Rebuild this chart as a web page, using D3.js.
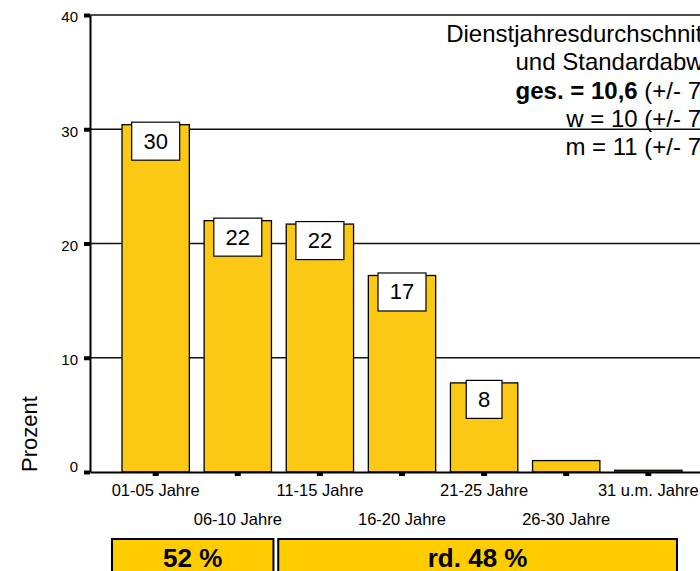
<!DOCTYPE html>
<html>
<head>
<meta charset="utf-8">
<script src="https://cdn.jsdelivr.net/npm/d3@7"></script>
<style>
  body { margin: 0; background: #fff; }
  svg { display: block; font-family: "Liberation Sans", Arial, sans-serif; }
</style>
</head>
<body>
<svg id="chart" width="700" height="571"></svg>
<script>
var categories = ["01-05 Jahre", "06-10 Jahre", "11-15 Jahre", "16-20 Jahre", "21-25 Jahre", "26-30 Jahre", "31 u.m. Jahre"];
var values = [30.4, 22.0, 21.7, 17.2, 7.8, 1.0, 0.15];
var barLabels = ["30", "22", "22", "17", "8", "", ""];
var yTicks = [0, 10, 20, 30, 40];
var groupLabels = ["52 %", "rd. 48 %"];
var groupRanges = [[0, 1], [2, 6]];
var noteLines = ["Dienstjahresdurchschnitt", "und Standardabw."];
var noteStats = [
  {bold: "ges. = 10,6", rest: " (+/- 7)"},
  {bold: "", rest: "w = 10 (+/- 7)"},
  {bold: "", rest: "m = 11 (+/- 7)"}
];

var svg = d3.select("#chart");
var barFill = "#fbc814",
    boxFill = "#ffcc00";

var x = d3.scaleBand().domain(categories).range([90, 714])
    .paddingInner(0.18).paddingOuter(0.39);
var y = d3.scaleLinear().domain([0, 40]).range([472, 15]);

// gridlines behind bars
svg.append("g").selectAll("line")
  .data(yTicks.filter(function(d) { return d > 0; }))
  .enter().append("line")
    .attr("x1", 90).attr("x2", 714)
    .attr("y1", function(d) { return y(d); })
    .attr("y2", function(d) { return y(d); })
    .attr("stroke", "#111").attr("stroke-width", 1.3);

// bars
svg.append("g").selectAll("rect")
  .data(values)
  .enter().append("rect")
    .attr("x", function(d, i) { return x(categories[i]); })
    .attr("y", function(d) { return y(d); })
    .attr("width", x.bandwidth())
    .attr("height", function(d) { return y(0) - y(d); })
    .attr("fill", barFill)
    .attr("stroke", "#000").attr("stroke-width", 1.3);

// value boxes
var lab = svg.append("g").selectAll("g")
  .data(values.map(function(v, i) { return {v: v, t: barLabels[i], c: categories[i]}; })
    .filter(function(d) { return d.t !== ""; }))
  .enter().append("g")
    .attr("transform", function(d) {
      return "translate(" + (x(d.c) + x.bandwidth() / 2) + "," + (y(d.v) - 2.5) + ")";
    });
lab.append("rect").attr("fill", "#fff").attr("stroke", "#000").attr("stroke-width", 1.2)
  .attr("y", 0).attr("height", 38);
lab.append("text").attr("text-anchor", "middle").attr("y", 26.5)
  .attr("font-size", 22).text(function(d) { return d.t; });
lab.each(function() {
  var g = d3.select(this);
  var w = g.select("text").node().getComputedTextLength() + 23.5;
  g.select("rect").attr("x", -w / 2).attr("width", w);
});

// y axis
var yAxis = svg.append("g").attr("transform", "translate(90,0)")
  .call(d3.axisLeft(y).tickValues(yTicks).tickSize(6).tickSizeOuter(0).tickPadding(6));
yAxis.select(".domain").attr("stroke-width", 2);
yAxis.selectAll(".tick line").attr("stroke-width", 4);
yAxis.selectAll(".tick text")
  .attr("font-size", 15).attr("font-family", "Liberation Sans, Arial, sans-serif")
  .attr("dy", function(d) { return d === 0 ? "-0.05em" : "0.45em"; });

// x axis
var xAxis = svg.append("g").attr("transform", "translate(0," + y(0) + ")")
  .call(d3.axisBottom(x).tickSize(4).tickSizeOuter(0));
xAxis.select(".domain").attr("stroke-width", 2);
xAxis.selectAll(".tick line").attr("stroke-width", 6);
xAxis.selectAll(".tick text")
  .attr("font-size", 16.5).attr("font-family", "Liberation Sans, Arial, sans-serif")
  .attr("dy", 0)
  .attr("y", function(d, i) { return i % 2 ? 52.5 : 24; });

// y title
svg.append("text")
  .attr("transform", "translate(37,434) rotate(-90)")
  .attr("text-anchor", "middle").attr("font-size", 22)
  .text("Prozent");

// note, top right
var note = svg.append("g").attr("font-size", 24).attr("text-anchor", "end");
noteLines.forEach(function(t, i) {
  note.append("text").attr("x", 709).attr("y", 42 + i * 28.3).text(t);
});
noteStats.forEach(function(s, i) {
  var t = note.append("text").attr("x", 709).attr("y", 42 + (i + 2) * 28.3);
  if (s.bold) t.append("tspan").attr("font-weight", "bold").text(s.bold);
  t.append("tspan").text(s.rest);
});

// group boxes under the axis
var boxPad = [[-10, 2], [-8, -5]];
var grp = svg.append("g").selectAll("g")
  .data(groupLabels)
  .enter().append("g");
grp.append("rect")
  .attr("x", function(d, i) { return x(categories[groupRanges[i][0]]) + boxPad[i][0]; })
  .attr("width", function(d, i) {
    return x(categories[groupRanges[i][1]]) + x.bandwidth() + boxPad[i][1]
      - x(categories[groupRanges[i][0]]) - boxPad[i][0];
  })
  .attr("y", 539).attr("height", 50)
  .attr("fill", boxFill).attr("stroke", "#000").attr("stroke-width", 2);
grp.append("text")
  .attr("x", function(d, i) {
    var a = x(categories[groupRanges[i][0]]) + boxPad[i][0],
        b = x(categories[groupRanges[i][1]]) + x.bandwidth() + boxPad[i][1];
    return (a + b) / 2;
  })
  .attr("y", 567).attr("text-anchor", "middle")
  .attr("font-size", 26).attr("font-weight", "bold")
  .text(function(d) { return d; });
</script>
</body>
</html>
